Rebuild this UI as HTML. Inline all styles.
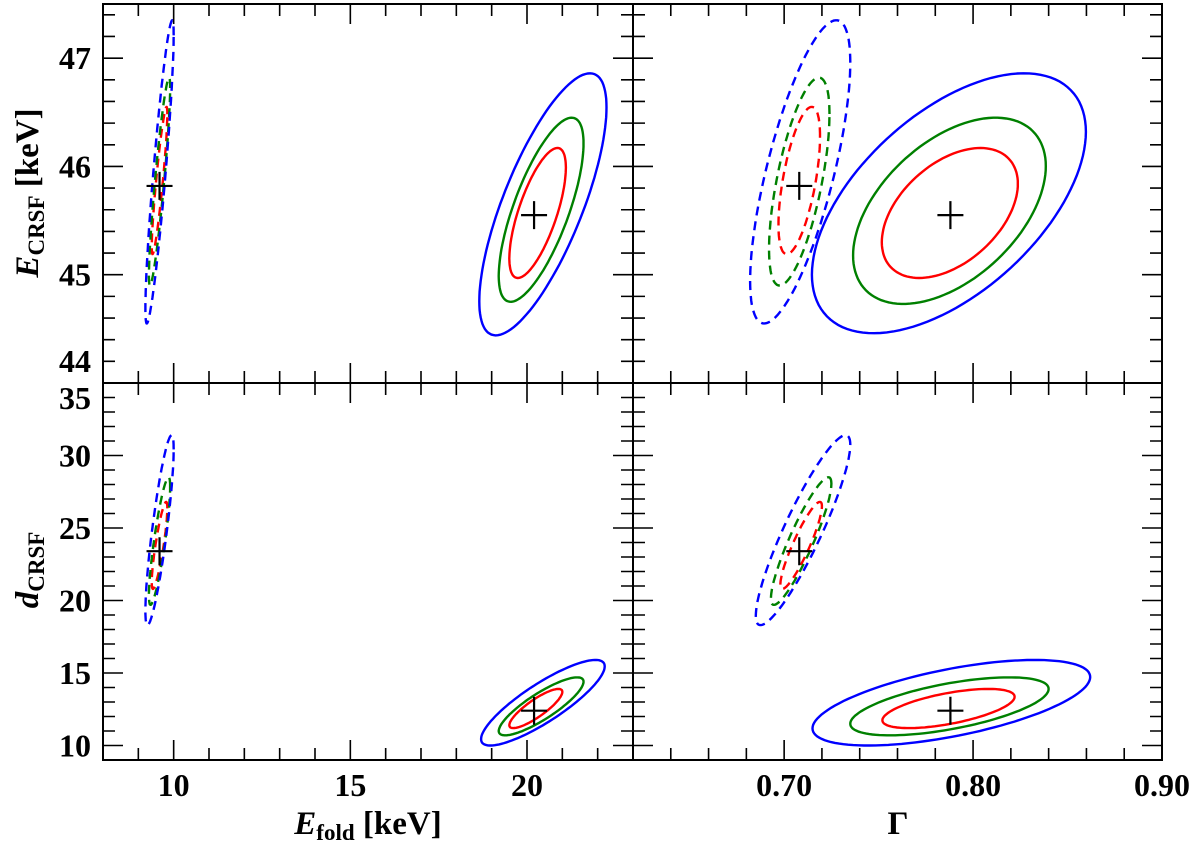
<!DOCTYPE html>
<html><head><meta charset="utf-8"><style>
body{margin:0;background:#fff;}
svg{display:block;}
text{font-family:"Liberation Serif",serif;font-weight:bold;fill:#000;}
</style></head><body>
<svg id="chart" width="1200" height="844" viewBox="0 0 1200 844"></svg>
<script>
// ---- data ----
const efoldRange = [8, 23];
const gammaRange = [0.62, 0.90];
const ecrsfRange = [44, 47.5];
const dcrsfRange = [9, 35];
const efoldTicks = [10, 15, 20];
const efoldTickLabels = ["10", "15", "20"];
const gammaTicks = [0.70, 0.80, 0.90];
const gammaTickLabels = ["0.70", "0.80", "0.90"];
const ecrsfTicks = [44, 45, 46, 47];
const ecrsfTickLabels = ["44", "45", "46", "47"];
const dcrsfTicks = [10, 15, 20, 25, 30, 35];
const dcrsfTickLabels = ["10", "15", "20", "25", "30", "35"];
const levelColors = ["#ff0000", "#008000", "#0000ff"];
// best-fit crosses [x, y]
const bestTL = [[20.2, 45.55], [9.6, 45.82]];
const bestTR = [[0.788, 45.55], [0.708, 45.82]];
const bestBL = [[20.2, 12.4], [9.6, 23.4]];
const bestBR = [[0.788, 12.4], [0.708, 23.4]];
// contours: [cx, cy, halfX, halfY, rho] for levels red, green, blue
const solidTL = [[20.3, 45.57, 0.8, 0.60, 0.7], [20.4, 45.60, 1.2, 0.85, 0.72], [20.45, 45.65, 1.8, 1.21, 0.74]];
const dashedTL = [[9.6, 45.87, 0.22, 0.68, 0.9], [9.6, 45.86, 0.30, 0.96, 0.9], [9.6, 45.95, 0.40, 1.40, 0.9]];
const solidTR = [[0.7877, 45.57, 0.036, 0.60, 0.45], [0.7875, 45.59, 0.051, 0.86, 0.48], [0.7872, 45.66, 0.0725, 1.20, 0.55]];
const dashedTR = [[0.708, 45.87, 0.011, 0.68, 0.6], [0.708, 45.86, 0.016, 0.96, 0.65], [0.7085, 45.95, 0.0265, 1.40, 0.72]];
const solidBL = [[20.25, 12.55, 0.75, 1.35, 0.85], [20.4, 12.7, 1.2, 2.0, 0.85], [20.45, 12.95, 1.75, 2.95, 0.85]];
const dashedBL = [[9.6, 23.8, 0.22, 3.0, 0.85], [9.6, 24.1, 0.3, 4.4, 0.85], [9.6, 24.85, 0.4, 6.55, 0.85]];
const solidBR = [[0.787, 12.55, 0.035, 1.35, 0.6], [0.7875, 12.7, 0.0525, 2.0, 0.6], [0.7885, 12.95, 0.0735, 2.95, 0.6]];
const dashedBR = [[0.709, 23.8, 0.011, 3.0, 0.9], [0.709, 24.1, 0.016, 4.4, 0.9], [0.71, 24.85, 0.025, 6.55, 0.9]];

const NS = "http://www.w3.org/2000/svg";
const svg = document.getElementById("chart");
function mk(tag, attrs, parent) {
  const e = document.createElementNS(NS, tag);
  for (const k in attrs) e.setAttribute(k, attrs[k]);
  (parent || svg).appendChild(e);
  return e;
}
const X0 = 103, XM = 633, X1 = 1162, Y0 = 4, YM = 383, Y1 = 760;
function scale(d, r) { return v => r[0] + (v - d[0]) / (d[1] - d[0]) * (r[1] - r[0]); }

function panel(name, xr, yr, xd, yd, xt, yt, xminor, yminor, solid, dashed, best) {
  const g = mk("g", {});
  
  
  const sx = scale(xd, [xr[0], xr[1]]);
  const sy = scale(yd, [yr[1], yr[0]]);
  function drawSet(set, dash, kind) {
    set.forEach((c, i) => {
      let d = "";
      for (let k = 0; k <= 120; k++) {
        const t = k / 120 * 2 * Math.PI;
        const x = c[0] + c[2] * Math.cos(t);
        const y = c[1] + c[3] * (c[4] * Math.cos(t) + Math.sqrt(1 - c[4] * c[4]) * Math.sin(t));
        d += (k ? "L" : "M") + sx(x).toFixed(1) + "," + sy(y).toFixed(1);
      }
      const p = mk("path", {d: d + "Z", fill: "none", stroke: levelColors[i], "stroke-width": 2.4, "stroke-dasharray": dash ? "9,6" : "none"}, g);
      
      
    });
  }
  drawSet(solid, false, "solid");
  drawSet(dashed, true, "dashed");
  best.forEach((b, i) => {
    const cx = sx(b[0]), cy = sy(b[1]);
    const p = mk("path", {d: `M${cx-13},${cy}H${cx+13}M${cx},${cy-14}V${cy+14}`, stroke: "#000", "stroke-width": 2.2}, g);
    
    
  });
  mk("rect", {x: xr[0], y: yr[0], width: xr[1] - xr[0], height: yr[1] - yr[0], fill: "none", stroke: "#000", "stroke-width": 2}, g);
  let td = "";
  for (let v = xd[0]; v <= xd[1] + 1e-9; v += xminor) {
    const vv = Math.round(v / xminor) * xminor;
    const maj = xt.some(t => Math.abs(t - vv) < xminor / 10);
    const L = maj ? 20 : 12, x = sx(vv);
    td += `M${x},${yr[1]}v${-L}M${x},${yr[0]}v${L}`;
  }
  for (let v = yd[0]; v <= yd[1] + 1e-9; v += yminor) {
    const vv = Math.round(v / yminor) * yminor;
    const maj = yt.some(t => Math.abs(t - vv) < yminor / 10);
    const L = maj ? 20 : 12, y = sy(vv);
    td += `M${xr[0]},${y}h${L}M${xr[1]},${y}h${-L}`;
  }
  mk("path", {d: td, stroke: "#000", "stroke-width": 1.6, fill: "none"}, g);
  return {sx, sy};
}

const tl = panel("panel-efold-ecrsf", [X0, XM], [Y0, YM], efoldRange, ecrsfRange, efoldTicks, ecrsfTicks, 1, 0.2, solidTL, dashedTL, bestTL);
const tr = panel("panel-gamma-ecrsf", [XM, X1], [Y0, YM], gammaRange, ecrsfRange, gammaTicks, ecrsfTicks, 0.02, 0.2, solidTR, dashedTR, bestTR);
const bl = panel("panel-efold-dcrsf", [X0, XM], [YM, Y1], efoldRange, dcrsfRange, efoldTicks, dcrsfTicks, 1, 1, solidBL, dashedBL, bestBL);
const br = panel("panel-gamma-dcrsf", [XM, X1], [YM, Y1], gammaRange, dcrsfRange, gammaTicks, dcrsfTicks, 0.02, 1, solidBR, dashedBR, bestBR);

function label(txt, x, y, anchor, name, size) {
  const t = mk("text", {x: x, y: y, "text-anchor": anchor, "font-size": size || 32});
  t.textContent = txt;
  
  
  return t;
}
efoldTicks.forEach((v, i) => label(efoldTickLabels[i], bl.sx(v), 796, "middle", "x-tick-label"));
gammaTicks.forEach((v, i) => label(gammaTickLabels[i], br.sx(v), 796, "middle", "x-tick-label"));
ecrsfTicks.forEach((v, i) => {
  let y = tl.sy(v) + 11;
  if (y > YM - 5) y = YM - 11;
  label(ecrsfTickLabels[i], 91, y, "end", "y-tick-label");
});
dcrsfTicks.forEach((v, i) => {
  let y = bl.sy(v) + 11;
  if (y < YM + 26) y = YM + 26;
  label(dcrsfTickLabels[i], 91, y, "end", "y-tick-label");
});
const xt1 = label("", 368, 834, "middle", "x-axis-title-efold", 33);
xt1.innerHTML = '<tspan font-style="italic">E</tspan><tspan font-size="23" dy="6">fold</tspan><tspan dy="-6"> [keV]</tspan>';
label("Γ", 898, 834, "middle", "x-axis-title-gamma", 33);
const yt1 = label("", 0, 0, "middle", "y-axis-title-ecrsf", 33);
yt1.setAttribute("transform", "translate(38,193) rotate(-90)");
yt1.innerHTML = '<tspan font-style="italic">E</tspan><tspan font-size="23" dy="6">CRSF</tspan><tspan dy="-6"> [keV]</tspan>';
const yt2 = label("", 0, 0, "middle", "y-axis-title-dcrsf", 33);
yt2.setAttribute("transform", "translate(38,570) rotate(-90)");
yt2.innerHTML = '<tspan font-style="italic">d</tspan><tspan font-size="23" dy="6">CRSF</tspan>';
</script>
</body></html>
